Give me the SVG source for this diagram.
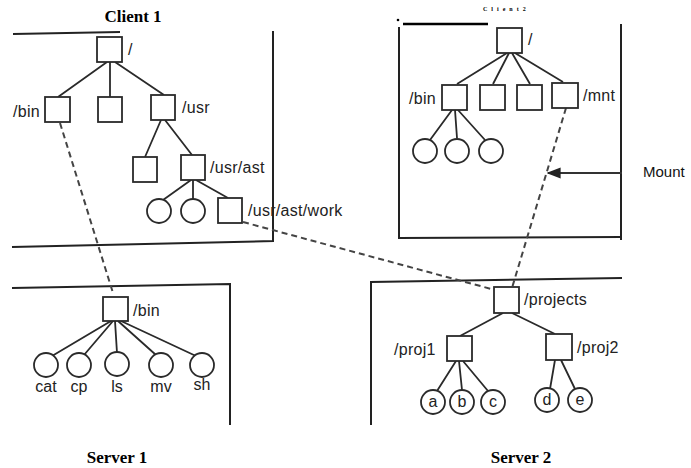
<svg xmlns="http://www.w3.org/2000/svg" width="691" height="468" viewBox="0 0 691 468">
<style>
.bg{fill:#fff}
.p{fill:none;stroke:#222;stroke-width:2}
.e{fill:none;stroke:#2a2a2a;stroke-width:1.8}
.n{fill:#fff;stroke:#2a2a2a;stroke-width:1.8}
.d{fill:none;stroke:#444;stroke-width:2;stroke-dasharray:6 4}
.l{font-family:"Liberation Sans",Arial,sans-serif;font-size:16px;letter-spacing:0.3px;fill:#222}
.c{font-family:"Liberation Sans",Arial,sans-serif;font-size:16px;fill:#222;text-anchor:middle}
.t{font-family:"Liberation Serif","Times New Roman",serif;font-size:17px;font-weight:bold;fill:#000;text-anchor:middle}
</style>
<defs>
<marker id="ah" viewBox="0 0 10 10" refX="9" refY="5" markerWidth="7" markerHeight="7" orient="auto"><path d="M0,1 L10,5 L0,9 z" fill="#222"/></marker>
</defs>
<rect class="bg" width="691" height="468"/>

<!-- titles -->
<text class="t" x="133" y="22">Client 1</text>
<text x="483" y="11" font-family="Liberation Serif,serif" font-size="6" font-weight="bold" letter-spacing="4" fill="#000">Client2</text>
<text class="t" x="117" y="463">Server 1</text>
<text class="t" x="521" y="463">Server 2</text>
<text x="643" y="177" font-family="Liberation Sans,Arial,sans-serif" font-size="15" fill="#111">Mount</text>

<!-- panels -->
<g id="panels">
<path class="p" d="M13,34 L120,32"/>
<path class="p" d="M273,31 L273,241 L12,247"/>
<circle cx="398" cy="20" r="1.3" fill="#000"/>
<path d="M403,24 L488,24" stroke="#000" stroke-width="2.5"/>
<path class="p" d="M399,27 L399,238 L622,237"/>
<path class="p" d="M621,24 L621,240"/>
<path class="p" d="M12,288 L230,284 L230,425"/>
<path class="p" d="M371,425 L371,282 L622,278"/>
</g>

<!-- connectors -->
<g id="connectors">
<path class="e" d="M107,62 L58,97 M110,62 L110,97 M115,62 L164,95"/>
<path class="e" d="M161,120 L145,157 M165,120 L192,155"/>
<path class="e" d="M191,180 L163,200 M193,180 L193,199 M196,180 L228,198"/>
<path class="e" d="M507,53 L457,84 M509,53 L493,84 M512,53 L530,84 M515,53 L563,82"/>
<path class="e" d="M452,110 L430,140 M455,110 L457,138 M458,110 L485,140"/>
<path class="e" d="M111,321 L52,356 M113,321 L84,355 M115,321 L117,353 M118,321 L156,355 M121,321 L196,356"/>
<path class="e" d="M503,313 L460,336 M512,313 L555,334"/>
<path class="e" d="M456,361 L437,391 M459,361 L462,390 M463,361 L488,391"/>
<path class="e" d="M555,360 L550,389 M561,360 L575,389"/>
<path class="d" d="M60,123 L113,293"/>
<path class="d" d="M243,222 L495,290"/>
<path class="d" d="M566,108 L512,288"/>
<path d="M622,173 L548,173" stroke="#333" stroke-width="2" fill="none" marker-end="url(#ah)"/>
</g>

<!-- Client 1 -->
<g id="c1-root"><rect class="n" x="97" y="37" width="25" height="25"/><text class="l" x="128" y="55">/</text></g>
<g id="c1-bin"><rect class="n" x="45" y="97" width="25" height="25"/><text class="l" x="13" y="117">/bin</text></g>
<g id="c1-mid"><rect class="n" x="98" y="97" width="24" height="25"/></g>
<g id="c1-usr"><rect class="n" x="151" y="95" width="24" height="25"/><text class="l" x="182" y="113">/usr</text></g>
<g id="c1-usr-a"><rect class="n" x="133" y="157" width="24" height="25"/></g>
<g id="c1-usr-ast"><rect class="n" x="181" y="155" width="24" height="25"/><text class="l" x="210" y="173">/usr/ast</text></g>
<g id="c1-f1"><circle class="n" cx="159" cy="211" r="12"/></g>
<g id="c1-f2"><circle class="n" cx="193" cy="211" r="12"/></g>
<g id="c1-work"><rect class="n" x="218" y="198" width="24" height="25"/><text class="l" x="248" y="216">/usr/ast/work</text></g>

<!-- Client 2 -->
<g id="c2-root"><rect class="n" x="497" y="28" width="25" height="25"/><text class="l" x="528" y="45">/</text></g>
<g id="c2-bin"><rect class="n" x="442" y="85" width="25" height="25"/><text class="l" x="409" y="104">/bin</text></g>
<g id="c2-d2"><rect class="n" x="480" y="85" width="25" height="25"/></g>
<g id="c2-d3"><rect class="n" x="517" y="85" width="25" height="25"/></g>
<g id="c2-mnt"><rect class="n" x="552" y="83" width="26" height="25"/><text class="l" x="583" y="101">/mnt</text></g>
<g id="c2-f1"><circle class="n" cx="425" cy="151" r="12"/></g>
<g id="c2-f2"><circle class="n" cx="457" cy="151" r="12"/></g>
<g id="c2-f3"><circle class="n" cx="491" cy="151" r="12"/></g>

<!-- Server 1 -->
<g id="s1-bin"><rect class="n" x="103" y="297" width="25" height="24"/><text class="l" x="133" y="316">/bin</text></g>
<g id="s1-cat"><circle class="n" cx="46" cy="365" r="12"/><text class="c" x="46" y="392">cat</text></g>
<g id="s1-cp"><circle class="n" cx="79" cy="365" r="12"/><text class="c" x="79" y="392">cp</text></g>
<g id="s1-ls"><circle class="n" cx="117" cy="364" r="12"/><text class="c" x="117" y="392">ls</text></g>
<g id="s1-mv"><circle class="n" cx="161" cy="365" r="12"/><text class="c" x="161" y="392">mv</text></g>
<g id="s1-sh"><circle class="n" cx="202" cy="365" r="12"/><text class="c" x="202" y="390">sh</text></g>

<!-- Server 2 -->
<g id="s2-projects"><rect class="n" x="494" y="287" width="25" height="26"/><text class="l" x="524" y="305">/projects</text></g>
<g id="s2-proj1"><rect class="n" x="447" y="336" width="25" height="25"/><text class="l" x="394" y="355">/proj1</text></g>
<g id="s2-proj2"><rect class="n" x="546" y="334" width="26" height="26"/><text class="l" x="577" y="353">/proj2</text></g>
<g id="s2-a"><circle class="n" cx="433" cy="402" r="12"/><text class="c" x="433" y="407">a</text></g>
<g id="s2-b"><circle class="n" cx="462" cy="402" r="12"/><text class="c" x="462" y="407">b</text></g>
<g id="s2-c"><circle class="n" cx="493" cy="402" r="12"/><text class="c" x="493" y="407">c</text></g>
<g id="s2-d"><circle class="n" cx="547" cy="400" r="12"/><text class="c" x="547" y="405">d</text></g>
<g id="s2-e"><circle class="n" cx="580" cy="400" r="12"/><text class="c" x="580" y="405">e</text></g>
</svg>
